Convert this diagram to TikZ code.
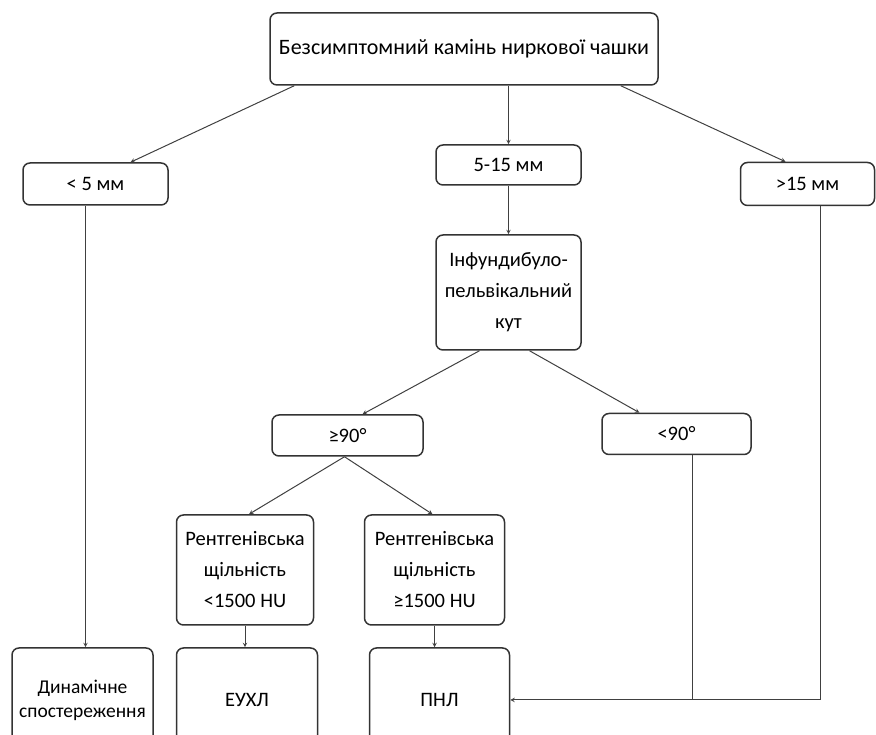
\documentclass[tikz,border=0pt]{standalone}
\usepackage{fontspec}
\setmainfont{Carlito}
\usepackage{tikz}
\usetikzlibrary{shapes, arrows, positioning, calc}

\tikzset{
  box/.style={draw=black!80, line width=1.5pt, rectangle, rounded corners=7pt, align=center, inner sep=0pt, font=\fontsize{20.5}{31}\selectfont},
  link/.style={draw=black!75, line width=1pt, -stealth}
}

\begin{document}
\begin{tikzpicture}[node distance=135pt, auto]
    \useasboundingbox (0,0) rectangle (876pt,735pt);
    \clip (0,0) rectangle (876pt,735pt);
    % Root
    \node [box, minimum width=388pt, minimum height=72pt, font=\fontsize{22}{26}\selectfont] (root) at (464pt,686pt) {Безсимптомний камінь ниркової чашки};
    
    % Stone size
    \node [box, below of=root, xshift=-368.5pt, minimum width=145pt, minimum height=42pt] (small) {< 5 мм};
    \node [box, below of=root, node distance=116pt, xshift=44.5pt, minimum width=145pt, minimum height=40pt] (mid) {5-15 мм};
    \node [box, below of=root, xshift=343.5pt, minimum width=134pt, minimum height=43pt] (large) {>15 мм};
    
    % Angle
    \node [box, below of=mid, node distance=127.5pt, minimum width=145pt, minimum height=115pt] (angle) {Інфундибуло-\\пельвікальний\\кут};
    \node [box, below of=angle, node distance=143pt, xshift=-161pt, minimum width=151pt, minimum height=41pt] (wide) {≥90°};
    \node [box, below of=angle, node distance=141.5pt, xshift=168pt, minimum width=149pt, minimum height=41pt] (narrow) {<90°};
    
    % Density
    \node [box, below of=wide, node distance=134.5pt, xshift=-102.5pt, minimum width=137pt, minimum height=110pt] (soft) {Рентгенівська\\щільність\\<1500 HU};
    \node [box, below of=wide, node distance=134.5pt, xshift=87pt, minimum width=140pt, minimum height=110pt] (hard) {Рентгенівська\\щільність\\≥1500 HU};
    
    % Treatment
    \node [box, below of=soft, node distance=130pt, xshift=2pt, minimum width=141pt, minimum height=104pt] (euhl) {ЕУХЛ};
    \node [box, below of=hard, node distance=130pt, xshift=5pt, minimum width=140pt, minimum height=104pt] (pnl) {ПНЛ};
    \node [box, below of=small, node distance=516pt, xshift=-13pt, minimum width=141pt, minimum height=104pt, font=\fontsize{19.5}{24}\selectfont] (watch) {Динамічне\\спостереження};
    
    % Connections
    \draw[link] ([xshift=25pt]root.south west) -- ([xshift=35pt]small.north);
    \draw[link] (mid |- root.south) -- (mid);
    \draw[link] ([xshift=-38pt]root.south east) -- ([xshift=-22pt]large.north);
    \draw[link] ([xshift=-10pt]small.south) -- ([xshift=-10pt]small.south |- watch.north);
    \draw[link] (mid) -- (angle);
    \draw[link] ([xshift=-29pt]angle.south) -- ([xshift=15pt]wide.north);
    \draw[link] ([xshift=21pt]angle.south) -- ([xshift=-37pt]narrow.north);
    \draw[link] ([xshift=-3pt]wide.south) -- ([xshift=4pt]soft.north);
    \draw[link] ([xshift=-3pt]wide.south) -- ([xshift=-2pt]hard.north);
    \draw[link] (soft) -- (soft |- euhl.north);
    \draw[link] (hard) -- (hard |- pnl.north);
    \coordinate (join) at ([xshift=16pt]narrow.south |- pnl.east);
    \draw[link, -] ([xshift=16pt]narrow.south) -- (join);
    \draw[link] ([xshift=12.5pt]large.south) |- (pnl.east);
\end{tikzpicture}
\end{document}
